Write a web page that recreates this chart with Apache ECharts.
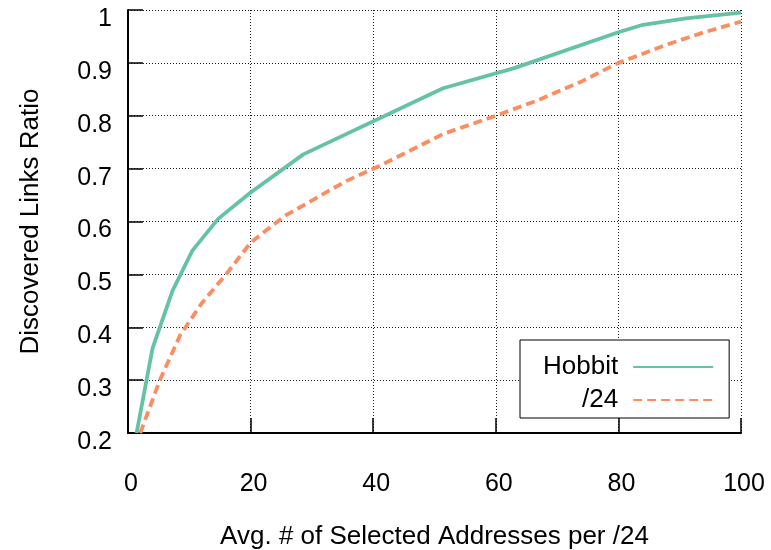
<!DOCTYPE html>
<html>
<head>
<meta charset="utf-8">
<script src="https://cdn.jsdelivr.net/npm/echarts@6/dist/echarts.min.js"></script>
<style>
html,body{margin:0;padding:0;background:#fff;}
#chart{width:771px;height:550px;}
</style>
</head>
<body>
<div id="chart"></div>
<script>
// Data
var hobbitX = [1.4, 4.0, 7.3, 10.5, 14.7, 20.0, 28.6, 51.4, 63.0, 80.0, 84.0, 91.0, 100.0];
var hobbitY = [0.20, 0.36, 0.47, 0.545, 0.605, 0.655, 0.727, 0.852, 0.89, 0.958, 0.972, 0.984, 0.995];
var slash24X = [2.0, 5.2, 8.5, 12.0, 16.0, 20.0, 25.5, 35.5, 41.0, 51.5, 60.0, 67.0, 74.0, 80.0, 88.0, 94.0, 100.0];
var slash24Y = [0.20, 0.30, 0.385, 0.445, 0.50, 0.56, 0.61, 0.676, 0.705, 0.766, 0.80, 0.83, 0.865, 0.90, 0.935, 0.958, 0.978];
var seriesNames = ['Hobbit', '/24'];
var xAxisTitle = 'Avg. # of Selected Addresses per /24';
var yAxisTitle = 'Discovered Links Ratio';

function pairs(xs, ys) { return xs.map(function (x, i) { return [x, ys[i]]; }); }

var FONT = '"Liberation Sans", Arial, Helvetica, sans-serif';
var chart = echarts.init(document.getElementById('chart'), null, {renderer: 'canvas'});
chart.setOption({
  animation: false,
  backgroundColor: '#fff',
  textStyle: {fontFamily: FONT, color: '#000'},
  grid: {left: 128, right: 30, top: 10, bottom: 117, containLabel: false, outerBoundsMode: 'none'},
  xAxis: {
    type: 'value', min: 0, max: 100, interval: 20,
    name: xAxisTitle, nameLocation: 'middle', nameGap: 91,
    nameTextStyle: {fontFamily: FONT, fontSize: 26, color: '#000'},
    axisLine: {show: true, lineStyle: {color: '#000', width: 2}},
    axisTick: {show: true, inside: true, length: 15, lineStyle: {color: '#000', width: 1.5}},
    axisLabel: {fontFamily: FONT, fontSize: 25, color: '#000', margin: 39, padding: [0, 0, 0, 6]},
    splitLine: {show: true, lineStyle: {color: '#222', type: [1, 2], width: 1}}
  },
  yAxis: {
    type: 'value', min: 0.2, max: 1, interval: 0.1,
    name: yAxisTitle, nameLocation: 'middle', nameGap: 84, nameRotate: 90,
    nameTextStyle: {fontFamily: FONT, fontSize: 26, color: '#000'},
    axisLine: {show: true, lineStyle: {color: '#000', width: 2}},
    axisTick: {show: true, inside: true, length: 15, lineStyle: {color: '#000', width: 1.5}},
    axisLabel: {fontFamily: FONT, fontSize: 25, color: '#000', margin: 16, verticalAlign: 'top', lineHeight: 18},
    splitLine: {show: true, lineStyle: {color: '#222', type: [1, 2], width: 1}}
  },
  legend: {
    orient: 'vertical', align: 'right',
    left: 520, top: 340,
    padding: [13, 15, 4, 23],
    itemWidth: 80, itemHeight: 14, itemGap: 5,
    backgroundColor: '#fff', borderColor: '#000', borderWidth: 1,
    itemStyle: {opacity: 0},
    textStyle: {fontFamily: FONT, fontSize: 26, color: '#000', lineHeight: 28, padding: [0, 10, 0, 0]},
    data: seriesNames
  },
  series: [
    {
      name: seriesNames[0], type: 'line', data: pairs(hobbitX, hobbitY),
      symbol: 'none', smooth: false,
      lineStyle: {color: '#66c2a5', width: 3.8, type: 'solid'},
      itemStyle: {color: '#66c2a5'}
    },
    {
      name: seriesNames[1], type: 'line', data: pairs(slash24X, slash24Y),
      symbol: 'none', smooth: false,
      lineStyle: {color: '#fc8d62', width: 3.8, type: [9, 5]},
      itemStyle: {color: '#fc8d62'}
    }
  ]
});
</script>
</body>
</html>
